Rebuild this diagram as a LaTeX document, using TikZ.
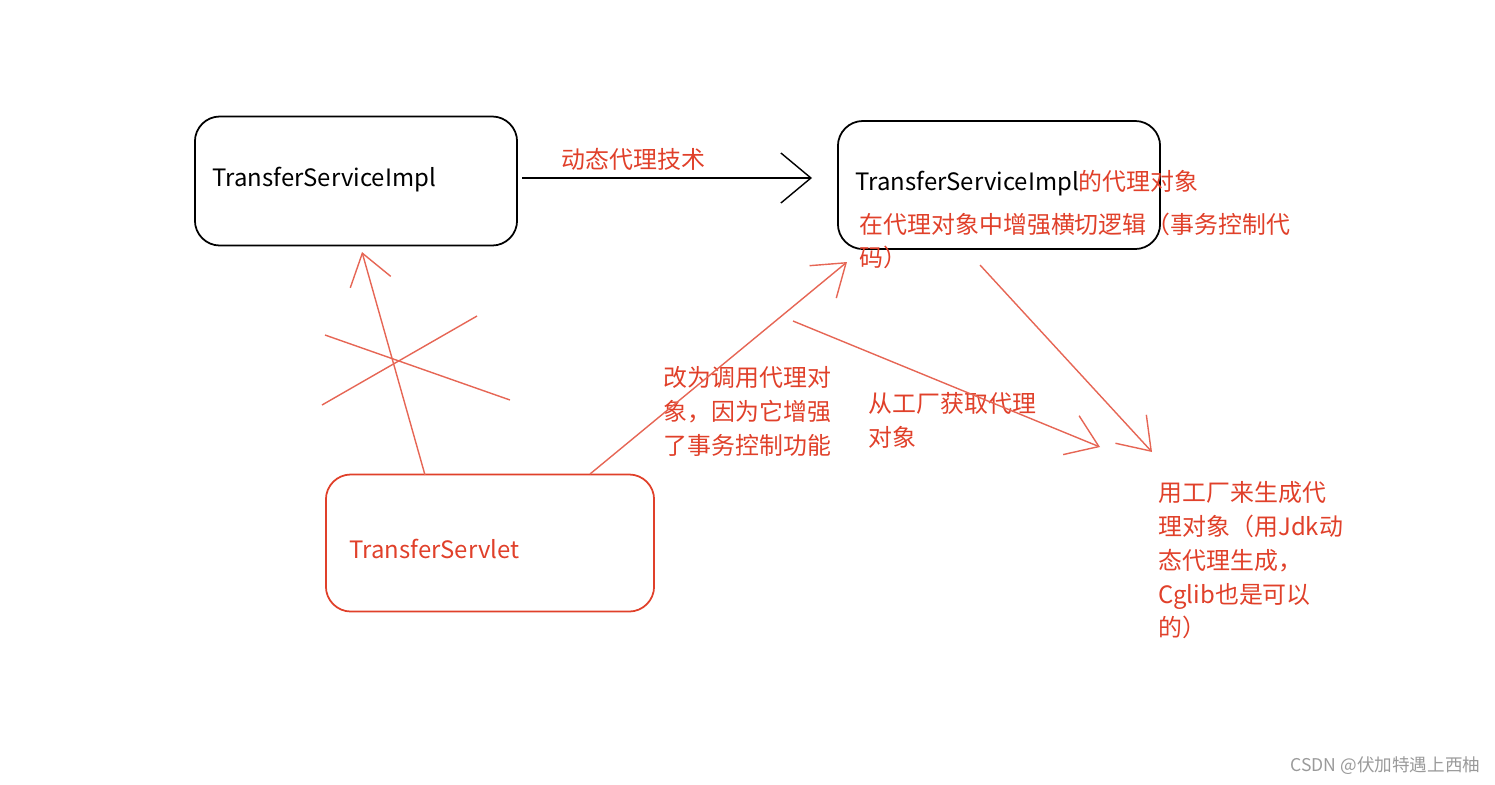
\documentclass[tikz,border=0pt]{standalone}
\usepackage{fontspec}
\setmainfont{Noto Sans CJK SC}
\usetikzlibrary{positioning,arrows.meta}
\definecolor{penred}{HTML}{E0402A}
\definecolor{markgray}{HTML}{9A9A9A}
\tikzset{
  objbox/.style={draw,rounded corners=0.25cm,inner sep=0pt,line width=0.5pt},
  label/.style={anchor=north west,inner sep=0pt,align=left,text=penred,font=\fontsize{6.8}{9.6}\selectfont},
  redarrow/.style={penred!80,line width=0.4pt,-{Straight Barb[length=0.3cm,width=0.42cm]}},
  redline/.style={penred!80,line width=0.4pt}
}
\begin{document}
\begin{tikzpicture}[x=0.01cm,y=-0.01cm]
  \useasboundingbox (0,0) rectangle (1495,784);
  % objects
  \node [objbox,minimum width=3.22cm,minimum height=1.29cm] (impl) at (356,181) {};
  \node [objbox,minimum width=3.22cm,minimum height=1.28cm] (proxy) at (999,185) {};
  \node [objbox,draw=penred,minimum width=3.28cm,minimum height=1.37cm] (servlet) at (490,543) {};
  \node [anchor=west,inner sep=0pt,font=\fontsize{6.8}{8}\selectfont] (implname) at (212,180) {TransferServiceImpl};
  \node [anchor=west,inner sep=0pt,font=\fontsize{6.8}{8}\selectfont] (proxyname) at (855,183) {TransferServiceImpl\textcolor{penred}{的代理对象}};
  \node [anchor=west,inner sep=0pt,text=penred,font=\fontsize{6.8}{8}\selectfont] (servletname) at (349,549) {TransferServlet};
  % labels
  \node [label] (techlbl) at (561,148) {动态代理技术};
  \node [label] (enhlbl) at (859,212) {在代理对象中增强横切逻辑（事务控制代\\码）};
  \node [label] (calllbl) at (663,366) {改为调用代理对\\象，因为它增强\\了事务控制功能};
  \node [label] (getlbl) at (868,392) {从工厂获取代理\\对象};
  \node [label] (makelbl) at (1158,481) {用工厂来生成代\\理对象（用Jdk动\\态代理生成，\\Cglib也是可以\\的）};
  \node [anchor=east,inner sep=0pt,text=markgray,font=\fontsize{5}{6}\selectfont] (mark) at (1481,766) {CSDN @伏加特遇上西柚};
  % connector ends
  \coordinate (techs) at (522,178);
  \coordinate (techt) at (812,178);
  \coordinate (olds) at (425,475);
  \coordinate (oldt) at (362,252);
  \coordinate (news) at (590,474);
  \coordinate (newt) at (847,262);
  \coordinate (gets) at (793,321);
  \coordinate (gett) at (1100,447);
  \coordinate (makes) at (980,265);
  \coordinate (maket) at (1152,452);
  \coordinate (crossa) at (322,405);
  \coordinate (crossb) at (477,316);
  \coordinate (crossc) at (325,335);
  \coordinate (crossd) at (510,400);

  \draw [line width=0.4pt,-{Straight Barb[length=0.3cm,width=0.5cm]}] (techs) -- (techt);
  \draw [redarrow] (olds) -- (oldt);
  \draw [redarrow] (news) -- (newt);
  \draw [redarrow] (gets) -- (gett);
  \draw [redarrow] (makes) -- (maket);
  \draw [redline] (crossa) -- (crossb);
  \draw [redline] (crossc) -- (crossd);
\end{tikzpicture}
\end{document}
